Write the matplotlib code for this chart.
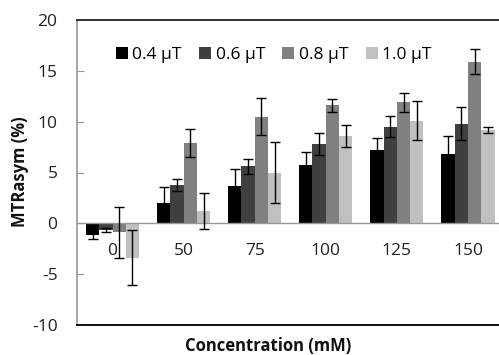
import numpy as np
import matplotlib
matplotlib.use('Agg')
import matplotlib.pyplot as plt
from matplotlib.patches import Patch

plt.rcParams['font.family'] = ['Open Sans', 'DejaVu Sans']
plt.rcParams['axes.unicode_minus'] = False

# Данные графика
concentrations = ['0', '50', '75', '100', '125', '150']
series_labels = ['0.4 \u03bcT', '0.6 \u03bcT', '0.8 \u03bcT', '1.0 \u03bcT']
series_colors = ['#000000', '#404040', '#808080', '#c0c0c0']

values_04 = [-1.1, 2.0, 3.7, 5.7, 7.2, 6.8]
values_06 = [-0.7, 3.8, 5.6, 7.8, 9.5, 9.8]
values_08 = [-0.9, 7.9, 10.5, 11.6, 11.9, 15.9]
values_10 = [-3.4, 1.2, 5.0, 8.6, 10.1, 9.2]

errors_04 = [0.4, 1.55, 1.65, 1.3, 1.2, 1.8]
errors_06 = [0.2, 0.6, 0.75, 1.1, 1.05, 1.65]
errors_08 = [2.5, 1.4, 1.8, 0.6, 0.9, 1.25]
errors_10 = [2.7, 1.8, 3.0, 1.1, 1.9, 0.3]

values = [values_04, values_06, values_08, values_10]
errors = [errors_04, errors_06, errors_08, errors_10]

fig = plt.figure(figsize=(4.99, 3.55), dpi=100)
ax = fig.add_axes([77 / 499, 1 - 325 / 355, 426.5 / 499, 305 / 355])

x = np.arange(len(concentrations))
width = 0.187

for i in range(4):
    pos = x + (i - 1.5) * width
    ax.bar(pos, values[i], width, color=series_colors[i], zorder=2)
    ax.errorbar(pos, values[i], yerr=errors[i], fmt='none', ecolor='black',
                elinewidth=1, capsize=3.5, capthick=1, zorder=3)

ax.set_xlim(-0.5, 5.5)
ax.set_ylim(-10, 20)
ax.set_yticks(range(-10, 21, 5))

# Ось X проходит через ноль
ax.spines['bottom'].set_position(('data', 0))
ax.spines['bottom'].set_color('#999999')
ax.spines['bottom'].set_linewidth(1)
ax.spines['left'].set_color('#999999')
ax.spines['left'].set_linewidth(1.2)
ax.spines['top'].set_color('#333333')
ax.spines['top'].set_linewidth(1.4)
ax.spines['right'].set_visible(False)
ax.axhline(-10, color='#111111', lw=1.4, clip_on=False, zorder=4)

ax.set_xticks(x)
ax.set_xticklabels(concentrations)
ax.tick_params(axis='x', length=0, pad=14, labelsize=12.5, labelcolor='#222222')
ax.tick_params(axis='y', direction='in', length=5, color='#999999',
               labelsize=12.5, labelcolor='#222222', pad=14)

handles = [Patch(facecolor=c, edgecolor='none') for c in series_colors]
ax.legend(handles, series_labels, loc='center', bbox_to_anchor=(0.461, 0.885),
          ncol=4, frameon=False, fontsize=12.5, handlelength=0.7,
          handleheight=0.7, handletextpad=0.25, columnspacing=1.0)

fig.text(20 / 499, 1 - 172 / 355, 'MTRasym (%)', rotation=90, ha='center',
         va='center', fontsize=12, fontweight='bold', color='#111111')
fig.text(268 / 499, 1 - 346 / 355, 'Concentration (mM)', ha='center',
         va='center', fontsize=12, fontweight='bold', color='#111111')

fig.savefig('out.png', dpi=100)
